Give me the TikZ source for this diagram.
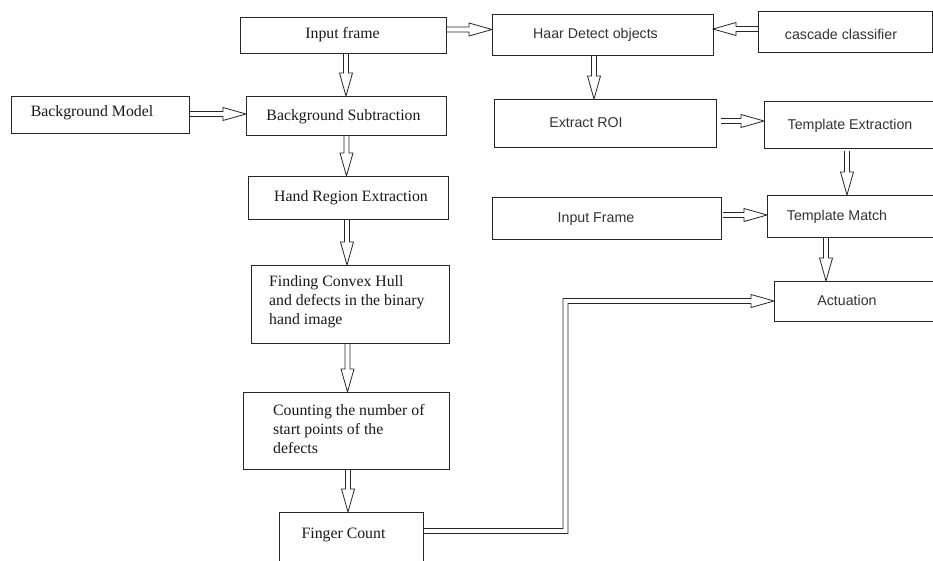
\documentclass[tikz,border=0pt]{standalone}
\usepackage{fontspec}
\setmainfont{Liberation Serif}
\newfontfamily\arialf{Liberation Sans}
\usetikzlibrary{calc}
\tikzset{
  box/.style={draw=black!85, line width=0.9pt, inner sep=0pt, outer sep=0pt},
  serift/.style={font=\fontsize{15.8}{19}\selectfont, text=black!90, inner sep=0pt},
  sanst/.style={font=\arialf\fontsize{14.2}{17}\selectfont, text=black!80, inner sep=0pt},
  blockline/.style={draw=black!85, line width=0.8pt, line join=miter},
}
% block arrow: two parallel shaft lines and an open triangular head, from #1 to tip #2
\newcommand\blockarrow[2]{%
  \coordinate (ba) at ($(#2)!23pt!(#1)$);
  \draw[blockline] ($(#1)!2.5pt!90:(#2)$) -- ($(ba)!2.5pt!90:(#2)$) -- ($(ba)!6.5pt!90:(#2)$) -- (#2)
     -- ($(ba)!6.5pt!-90:(#2)$) -- ($(ba)!2.5pt!-90:(#2)$) -- ($(#1)!2.5pt!-90:(#2)$);
}
\begin{document}
\begin{tikzpicture}[x=1pt,y=-1pt]
\useasboundingbox (0,0) rectangle (933,560);
\fill[white] (0,0) rectangle (933,560);
\clip (0,0) rectangle (933,560);
% boxes
\node[box, minimum width=206pt, minimum height=36pt] (inframe) at (343,35) {};
\node[box, minimum width=221pt, minimum height=41pt] (haar) at (602.5,34.5) {};
\node[box, minimum width=174pt, minimum height=41pt] (cascade) at (845,31.5) {};
\node[box, minimum width=178pt, minimum height=37pt] (bgmodel) at (100,114.5) {};
\node[box, minimum width=200pt, minimum height=39pt] (bgsub) at (346,115.5) {};
\node[box, minimum width=222pt, minimum height=48pt] (roi) at (605,123) {};
\node[box, minimum width=181pt, minimum height=47pt] (tmplext) at (854.5,124.5) {};
\node[box, minimum width=200pt, minimum height=43pt] (hand) at (348,197.5) {};
\node[box, minimum width=229pt, minimum height=42pt] (inframe2) at (606.5,218) {};
\node[box, minimum width=178pt, minimum height=42pt] (tmatch) at (856,216) {};
\node[box, minimum width=198pt, minimum height=78pt] (hull) at (350,304) {};
\node[box, minimum width=171pt, minimum height=40pt] (actuation) at (859.5,301) {};
\node[box, minimum width=206pt, minimum height=77pt] (count) at (346,430.5) {};
\node[box, minimum width=144pt, minimum height=53pt] (finger) at (351,538.5) {};
% texts
\node[serift] (tinframe) at (342.5,35) {Input frame};
\node[serift] (tbgmodel) at (92,113) {Background Model};
\node[serift] (tbgsub) at (343.5,117) {Background Subtraction};
\node[serift] (thand) at (351,198) {Hand Region Extraction};
\node[serift, align=left, anchor=west] (thull) at (269,302) {Finding Convex Hull\\and defects in the binary\\hand image};
\node[serift, align=left, anchor=west] (tcount) at (273,429) {Counting the number of\\start points of the\\defects};
\node[serift] (tfinger) at (343.5,535) {Finger Count};
\node[sanst] (thaar) at (595.5,35) {Haar Detect objects};
\node[sanst] (tcascade) at (841,34) {cascade classifier};
\node[sanst] (troi) at (586,123) {Extract ROI};
\node[sanst] (ttmplext) at (850,126) {Template Extraction};
\node[sanst] (tinframe2) at (596,219) {Input Frame};
\node[sanst] (ttmatch) at (837,217) {Template Match};
\node[sanst] (tactuation) at (847,300) {Actuation};
% arrows
\coordinate (s1) at ($(inframe.east)+(0,-5.5)$);
\blockarrow{s1}{haar.west |- s1}
\coordinate (s2) at ($(cascade.west)+(0,-2.5)$);
\blockarrow{s2}{haar.east |- s2}
\coordinate (s3) at ($(haar.south)+(-8.5,0)$);
\blockarrow{s3}{roi.north -| s3}
\coordinate (s4) at ($(bgmodel.east)+(0,-0.5)$);
\blockarrow{s4}{bgsub.west |- s4}
\coordinate (s5) at ($(inframe.south)+(3,0)$);
\blockarrow{s5}{bgsub.north -| s5}
\coordinate (s6) at ($(bgsub.south)+(0.5,0)$);
\blockarrow{s6}{hand.north -| s6}
\coordinate (s7) at ($(hand.south)+(-1,0)$);
\blockarrow{s7}{hull.north -| s7}
\coordinate (s8) at ($(hull.south)+(-2.5,0)$);
\blockarrow{s8}{count.north -| s8}
\coordinate (s9) at ($(count.south)+(2,0)$);
\blockarrow{s9}{finger.north -| s9}
\coordinate (s10) at ($(roi.east)+(5,-2)$);
\blockarrow{s10}{tmplext.west |- s10}
\coordinate (s11) at ($(tmplext.south)+(-7.5,3)$);
\blockarrow{s11}{tmatch.north -| s11}
\coordinate (s12) at ($(inframe2.east)+(2,-3)$);
\blockarrow{s12}{tmatch.west |- s12}
\coordinate (s13) at ($(tmatch.south)+(-30,0)$);
\blockarrow{s13}{actuation.north -| s13}
% elbow connector Finger Count -> Actuation
\coordinate (s14) at ($(finger.east)+(0,-7.5)$);
\coordinate (bend) at ($(s14)+(142.5,0)$);
\coordinate (etip) at (actuation.west);
\coordinate (ebase) at ($(etip)+(-23,0)$);
\draw[blockline] ($(s14)+(0,-2.5)$) -- ($(bend)+(-2.5,-2.5)$) -- ($(bend |- etip)+(-2.5,-2.5)$)
  -- ($(ebase)+(0,-2.5)$) -- ($(ebase)+(0,-6.5)$) -- (etip) -- ($(ebase)+(0,6.5)$) -- ($(ebase)+(0,2.5)$)
  -- ($(bend |- etip)+(2.5,2.5)$) -- ($(bend)+(2.5,2.5)$) -- ($(s14)+(0,2.5)$);
\end{tikzpicture}
\end{document}
